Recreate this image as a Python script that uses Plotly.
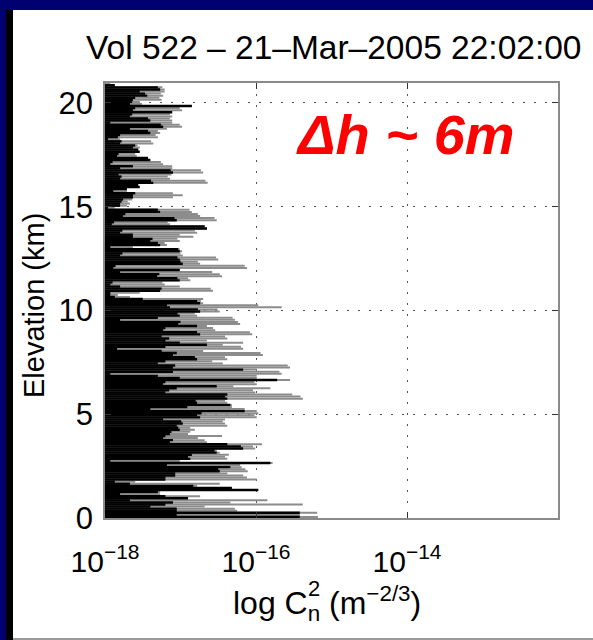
import numpy as np
import plotly.graph_objects as go

# Elevation rows (km), one per 0.1 km
elev_km = [round(0.05 + 0.1 * i, 2) for i in range(210)]

# log10 Cn^2 of the dense (black) part of each row
core_log = [
    -15.42, -17.05, -15.42, -17.05, -17.05, -17.40, -17.20, -17.10, -17.67, -16.90,
    -17.20, -17.80, -17.30, -15.97, -16.32, -16.83, -17.67, -17.87, -17.20, -17.20,
    -17.07, -17.07, -16.48, -16.50, -16.34, -17.18, -15.81, -17.93, -16.87, -16.90,
    -16.85, -16.52, -16.55, -16.17, -16.20, -16.38, -17.14, -17.10, -17.23, -17.20,
    -17.14, -17.12, -17.01, -17.03, -17.05, -16.97, -16.99, -17.23, -16.74, -16.78,
    -16.72, -16.15, -17.40, -16.91, -16.34, -16.78, -16.80, -16.38, -16.41, -16.38,
    -17.20, -17.15, -17.05, -16.52, -17.23, -17.20, -15.72, -17.01, -17.30, -17.93,
    -17.10, -16.17, -17.10, -17.07, -17.30, -17.20, -16.78, -16.81, -17.10, -17.05,
    -17.25, -17.84, -17.20, -16.65, -17.01, -17.20, -17.15, -17.25, -16.74, -16.78,
    -17.23, -17.20, -16.78, -17.03, -17.00, -17.80, -17.30, -17.01, -17.04, -16.74,
    -16.77, -17.14, -17.18, -16.74, -16.78, -17.50, -17.87, -17.93, -17.93, -17.27,
    -17.25, -17.80, -17.93, -17.90, -17.01, -17.04, -17.31, -17.28, -17.80, -17.01,
    -17.89, -17.86, -16.97, -17.00, -17.01, -17.04, -17.80, -17.77, -17.01, -17.03,
    -17.93, -17.27, -17.30, -17.40, -17.37, -17.63, -17.63, -17.80, -17.77, -16.65,
    -16.68, -17.91, -17.88, -17.05, -17.08, -17.76, -17.73, -17.27, -17.30, -17.96,
    -17.80, -17.80, -17.78, -17.76, -17.63, -17.63, -17.60, -17.89, -17.71, -17.54,
    -17.56, -17.36, -17.39, -17.80, -17.78, -17.82, -17.10, -17.13, -17.80, -17.63,
    -17.93, -17.90, -17.40, -17.43, -17.84, -17.82, -17.54, -17.56, -17.63, -17.60,
    -17.80, -17.78, -17.96, -17.83, -17.80, -17.40, -17.43, -17.67, -17.23, -17.26,
    -17.93, -17.40, -17.43, -17.67, -17.64, -17.11, -17.63, -17.60, -16.85, -17.67,
    -17.64, -17.63, -17.60, -17.44, -17.47, -17.54, -17.27, -17.30, -17.87, -18.00,
]

# log10 Cn^2 of the outer (grey) tip of each row
peak_log = [
    -15.18, -15.42, -15.19, -16.25, -16.28, -16.68, -15.38, -16.34, -15.85, -16.90,
    -16.74, -17.27, -17.27, -15.97, -16.32, -16.78, -16.48, -17.60, -15.99, -16.12,
    -16.17, -16.38, -16.11, -16.14, -16.19, -16.21, -15.78, -17.01, -16.38, -16.41,
    -16.36, -16.48, -16.52, -16.01, -16.04, -15.92, -16.65, -16.68, -16.77, -16.45,
    -16.90, -16.87, -16.81, -16.87, -16.38, -16.41, -16.44, -16.41, -15.99, -16.02,
    -15.97, -15.99, -16.15, -16.32, -16.32, -16.38, -16.41, -15.38, -15.41, -15.52,
    -16.01, -16.04, -15.81, -16.30, -15.99, -16.02, -15.55, -15.99, -15.99, -15.66,
    -15.69, -15.99, -15.55, -15.58, -16.44, -16.58, -16.38, -16.41, -15.91, -15.94,
    -16.70, -16.17, -16.20, -16.44, -16.17, -16.65, -16.38, -16.41, -16.05, -16.08,
    -16.54, -16.57, -16.65, -16.21, -16.24, -16.28, -16.31, -16.78, -16.81, -16.48,
    -16.51, -15.66, -15.97, -16.70, -16.73, -16.70, -17.67, -17.83, -17.54, -16.57,
    -16.60, -17.01, -17.21, -17.24, -16.87, -16.90, -16.45, -16.48, -16.58, -17.01,
    -16.12, -16.15, -16.74, -16.77, -16.50, -16.53, -16.97, -17.00, -16.98, -17.01,
    -17.63, -17.18, -17.21, -17.01, -17.04, -16.83, -17.01, -16.78, -16.81, -16.65,
    -16.68, -17.14, -17.17, -16.52, -16.55, -16.74, -16.77, -16.85, -16.88, -17.87,
    -17.71, -17.67, -17.70, -17.64, -17.10, -16.97, -17.10, -17.71, -17.71, -17.54,
    -17.56, -16.64, -16.67, -17.14, -17.17, -17.12, -16.70, -16.73, -17.11, -17.11,
    -17.23, -17.26, -17.40, -17.43, -17.58, -17.60, -17.54, -17.56, -17.54, -17.57,
    -17.36, -17.39, -17.80, -17.30, -17.33, -17.27, -17.30, -17.18, -16.98, -17.01,
    -17.11, -17.11, -17.14, -17.11, -17.14, -17.11, -16.98, -17.01, -16.85, -17.51,
    -17.54, -17.25, -17.28, -17.23, -17.26, -17.21, -17.21, -17.24, -17.87, -17.93,
]

x_ticks = [1e-18, 1e-16, 1e-14]
x_tick_text = ["10<sup>−18</sup>", "10<sup>−16</sup>", "10<sup>−14</sup>"]
y_ticks = [0, 5, 10, 15, 20]
y_tick_text = ["0", "5", "10", "15", "20"]

FONT = "Liberation Sans"


def segments(values):
    xs, ys = [], []
    for h, v in zip(elev_km, values):
        xs += [1e-18, 10 ** v, None]
        ys += [h, h, None]
    return xs, ys


gx, gy = segments(peak_log)
bx, by = segments(core_log)

fig = go.Figure()
fig.add_trace(go.Scatter(x=gx, y=gy, mode="lines",
                         line=dict(color="#8c8c8c", width=2.0),
                         hoverinfo="skip", showlegend=False))
fig.add_trace(go.Scatter(x=bx, y=by, mode="lines",
                         line=dict(color="black", width=2.4),
                         hoverinfo="skip", showlegend=False))

L, R, T, B = 105, 558, 83, 518
W, H = 593, 640


def px(x):
    return (x - L) / (R - L)


def py(y):
    return (B - y) / (B - T)


shapes = [
    dict(type="rect", xref="paper", yref="paper", layer="below",
         x0=px(6), x1=px(13), y0=py(640), y1=py(10),
         fillcolor="black", line=dict(width=0)),
    dict(type="rect", xref="paper", yref="paper", layer="below",
         x0=px(13), x1=px(593), y0=py(638), y1=py(10),
         fillcolor="white", line=dict(width=0)),
    dict(type="rect", xref="paper", yref="paper", layer="below",
         x0=px(13), x1=px(593), y0=py(640), y1=py(638),
         fillcolor="#9a9a9a", line=dict(width=0)),
]

annotations = [
    dict(text="Vol 522 – 21–Mar–2005 22:02:00", xref="paper", yref="paper",
         x=px(333), y=py(48), showarrow=False, xanchor="center", yanchor="middle",
         font=dict(family=FONT, size=33.5, color="black")),
    dict(text="Elevation (km)", xref="paper", yref="paper",
         x=px(34), y=py(306), showarrow=False, textangle=-90,
         xanchor="center", yanchor="middle",
         font=dict(family=FONT, size=29, color="black")),
    dict(text="log C<sub>n</sub> (m<sup>−2/3</sup>)", xref="paper", yref="paper",
         x=px(231), y=py(603), showarrow=False, xanchor="left", yanchor="middle",
         font=dict(family=FONT, size=32, color="black")),
    dict(text="2", xref="paper", yref="paper",
         x=px(306), y=py(588), showarrow=False, xanchor="left", yanchor="middle",
         font=dict(family=FONT, size=22, color="black")),
    dict(text="<b><i>Δh ~ 6m</i></b>", xref="paper", yref="paper",
         x=px(405), y=py(134), showarrow=False, xanchor="center", yanchor="middle",
         font=dict(family=FONT, size=56, color="#ff0000")),
]

axis_common = dict(
    showgrid=True, gridcolor="#555555", griddash="2px,9px", gridwidth=1.2,
    ticks="inside", ticklen=6, tickcolor="#333333",
    showline=True, linecolor="#8a8a8a", linewidth=1.5, mirror="ticks",
    zeroline=False,
)

fig.update_layout(
    width=W, height=H,
    margin=dict(l=L, r=W - R, t=T, b=H - B, pad=0),
    paper_bgcolor="#000070", plot_bgcolor="rgba(0,0,0,0)",
    shapes=shapes, annotations=annotations,
    xaxis=dict(type="log", range=[-18, -12], tickvals=x_ticks, ticktext=x_tick_text,
               ticklabelstandoff=16, tickfont=dict(family=FONT, size=30, color="black"),
               **axis_common),
    yaxis=dict(range=[0, 20.96], tickvals=y_ticks, ticktext=y_tick_text,
               ticklabelstandoff=4, tickfont=dict(family=FONT, size=31, color="black"),
               **axis_common),
)

fig.write_html("out.html")
